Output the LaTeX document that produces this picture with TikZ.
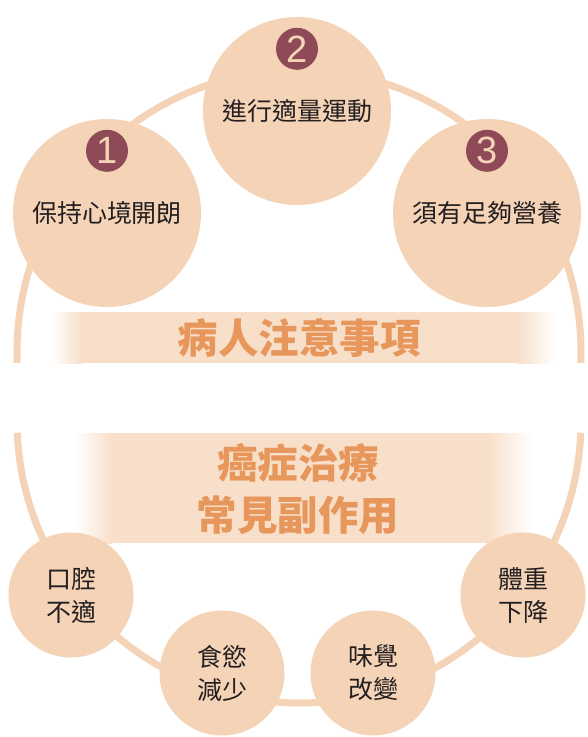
\documentclass[tikz,border=0pt]{standalone}
\usepackage{fontspec}
\setmainfont{Liberation Sans}
\newfontfamily\cjk{Noto Sans CJK TC}
\usetikzlibrary{positioning}

\definecolor{peach}{RGB}{245,211,183}
\definecolor{bannerfill}{RGB}{248,223,202}
\definecolor{bannertext}{RGB}{232,151,92}
\definecolor{badgered}{RGB}{142,74,86}
\definecolor{inktext}{RGB}{35,31,32}

\begin{document}
\begin{tikzpicture}[
    x=1pt, y=-1pt,
    tip/.style={circle, fill=peach, minimum size=188pt, inner sep=0pt, text=inktext, font=\cjk\fontsize{25}{28}\selectfont},
    effect/.style={circle, fill=peach, minimum size=125pt, inner sep=0pt, align=center, text=inktext, font=\cjk\fontsize{25}{33}\selectfont},
    badge/.style={circle, fill=badgered, minimum size=42pt, inner sep=0pt, text=peach, font=\fontsize{38}{38}\selectfont},
    ring/.style={draw=peach, line width=7pt},
    title/.style={align=center, text=bannertext, font=\cjk\bfseries\fontsize{40.5}{52}\selectfont}
]
\useasboundingbox (0,0) rectangle (588,737);

% Outer ring, split in two arcs
\coordinate (topc) at (299,352);
\coordinate (botc) at (299,421);
\draw[ring] (topc) ++(177.8:282) arc[start angle=177.8, end angle=362.2, radius=282];
\draw[ring] (botc) ++(2.4:282) arc[start angle=2.4, end angle=177.6, radius=282];

% Banners
\fill[bannerfill] (81,312) rectangle (518,363);
\shade[left color=white, right color=bannerfill] (51,312) rectangle (82,363);
\shade[left color=bannerfill, right color=white] (517,312) rectangle (555,363);
\fill[bannerfill] (111,433) rectangle (488,543);
\shade[left color=white, right color=bannerfill] (75,433) rectangle (112,543);
\shade[left color=bannerfill, right color=white] (487,433) rectangle (532,543);

\node[title] (care) at (299,338) {病人注意事項};
\node[title] (side) at (298,489) {癌症治療\\常見副作用};

% Patient tips
\node[tip] (keep) at (107,213) {保持心境開朗};
\node[tip] (move) at (297,111) {進行適量運動};
\node[tip] (feed) at (487,213) {須有足夠營養};

\node[badge, above=41pt of keep.center] (one) {1};
\node[badge, above=41pt of move.center] (two) {2};
\node[badge, above=41pt of feed.center] (three) {3};

% Side effects
\node[effect] (mouth) at (71,595) {口腔\\不適};
\node[effect] (appetite) at (222,673) {食慾\\減少};
\node[effect] (taste) at (373,673) {味覺\\改變};
\node[effect] (weight) at (523,595) {體重\\下降};

\end{tikzpicture}
\end{document}
